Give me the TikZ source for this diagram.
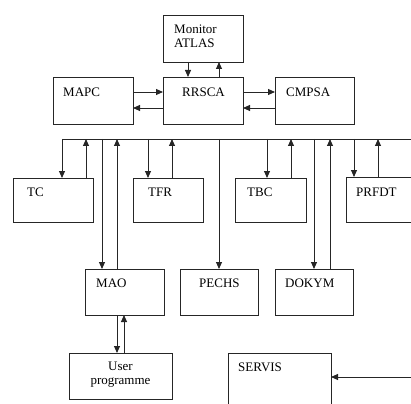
\documentclass[tikz,border=0pt]{standalone}
\usepackage{fontspec}
\setmainfont{Liberation Serif}
\usetikzlibrary{arrows.meta}
\begin{document}
\begin{tikzpicture}[x=1pt,y=-1pt,
  box/.style={draw=black!85,line width=0.9pt,anchor=north west,inner sep=0pt,outer sep=0pt},
  lab/.style={anchor=west,inner sep=0pt,font=\fontsize{13}{15}\selectfont},
  clab/.style={inner sep=0pt,font=\fontsize{13}{15}\selectfont,align=center},
  arr/.style={draw=black!85,line width=0.9pt,-{Triangle[length=7pt,width=6pt]}},
  ln/.style={draw=black!85,line width=0.9pt}]
\useasboundingbox (0,0) rectangle (411,403);
\clip (0,0) rectangle (411,403);
% boxes
\node[box,minimum width=80pt,minimum height=47pt] (mon) at (163,15) {};
\node[box,minimum width=80pt,minimum height=47pt] (mapc) at (53,77) {};
\node[box,minimum width=80pt,minimum height=47pt] (rrsca) at (163,77) {};
\node[box,minimum width=79pt,minimum height=47pt] (cmpsa) at (275,77) {};
\node[box,minimum width=80pt,minimum height=44pt] (tc) at (13,178) {};
\node[box,minimum width=70pt,minimum height=44pt] (tfr) at (133,178) {};
\node[box,minimum width=71pt,minimum height=44pt] (tbc) at (235,178) {};
\node[box,minimum width=80pt,minimum height=45pt] (prfdt) at (346,177) {};
\node[box,minimum width=79pt,minimum height=46pt] (mao) at (85,269) {};
\node[box,minimum width=78pt,minimum height=46pt] (pechs) at (180,269) {};
\node[box,minimum width=78pt,minimum height=46pt] (dokym) at (275,269) {};
\node[box,minimum width=103pt,minimum height=46pt] (user) at (69,353) {};
\node[box,minimum width=103pt,minimum height=70pt] (servis) at (228,353) {};
% labels
\node[lab] (tmon1) at (174,29) {Monitor};
\node[lab] (tmon2) at (174,43) {ATLAS};
\node[lab] (tmapc) at (63,92) {MAPC};
\node[lab] (trrsca) at (182,92) {RRSCA};
\node[lab] (tcmpsa) at (286,92) {CMPSA};
\node[lab] (ttc) at (27,192) {TC};
\node[lab] (ttfr) at (148,192) {TFR};
\node[lab] (ttbc) at (247,192) {TBC};
\node[lab] (tprfdt) at (356,192) {PRFDT};
\node[lab] (tmao) at (96,283) {MAO};
\node[lab] (tpechs) at (199,283) {PECHS};
\node[lab] (tdokym) at (285,283) {DOKYM};
\node[clab] (tuser) at (120.5,374.5) {User\\[-1pt]programme};
\node[lab] (tservis) at (238,367) {SERVIS};
% top connections
\draw[arr] ([xshift=25pt]mon.south west) -- ([xshift=25pt]rrsca.north west);
\draw[arr] ([xshift=56pt]rrsca.north west) -- ([xshift=56pt]mon.south west);
\draw[arr] ([yshift=-15pt]mapc.north east) -- ([yshift=-15pt]rrsca.north west);
\draw[arr] ([yshift=-31pt]rrsca.north west) -- ([yshift=-31pt]mapc.north east);
\draw[arr] ([yshift=-15pt]rrsca.north east) -- ([yshift=-15pt]cmpsa.north west);
\draw[arr] ([yshift=-31pt]cmpsa.north west) -- ([yshift=-31pt]rrsca.north east);
% bus
\coordinate (busL) at (62,139);
\coordinate (busR) at (420,139);
\draw[ln] (busL) -- (busR);
% attachment points
\path ([xshift=49pt]tc.north west) coordinate (tcd)
      ([xshift=73pt]tc.north west) coordinate (tcu)
      ([xshift=15pt]tfr.north west) coordinate (tfrd)
      ([xshift=39pt]tfr.north west) coordinate (tfru)
      ([xshift=32pt]tbc.north west) coordinate (tbcd)
      ([xshift=56pt]tbc.north west) coordinate (tbcu)
      ([xshift=8pt]prfdt.north west) coordinate (prd)
      ([xshift=32pt]prfdt.north west) coordinate (pru)
      ([xshift=17pt]mao.north west) coordinate (maod)
      ([xshift=32pt]mao.north west) coordinate (maou)
      (pechs.north) coordinate (pechsd)
      ([xshift=39pt]dokym.north west) coordinate (dokd)
      ([xshift=55pt]dokym.north west) coordinate (doku);
\draw[arr] (tcd |- busL) -- (tcd);
\draw[arr] (tcu) -- (tcu |- busL);
\draw[arr] (tfrd |- busL) -- (tfrd);
\draw[arr] (tfru) -- (tfru |- busL);
\draw[arr] (tbcd |- busL) -- (tbcd);
\draw[arr] (tbcu) -- (tbcu |- busL);
\draw[arr] (prd |- busL) -- (prd);
\draw[arr] (pru) -- (pru |- busL);
\draw[arr] (maod |- busL) -- (maod);
\draw[arr] (maou) -- (maou |- busL);
\draw[arr] (pechsd |- busL) -- (pechsd);
\draw[arr] (dokd |- busL) -- (dokd);
\draw[arr] (doku) -- (doku |- busL);
% MAO - user
\draw[arr] ([xshift=32pt]mao.south west) -- ([xshift=48pt]user.north west);
\draw[arr] ([xshift=55pt]user.north west) -- ([xshift=39pt]mao.south west);
% servis input
\coordinate (sin) at (420,377);
\draw[arr] (sin) -- (sin -| servis.east);
\end{tikzpicture}
\end{document}
